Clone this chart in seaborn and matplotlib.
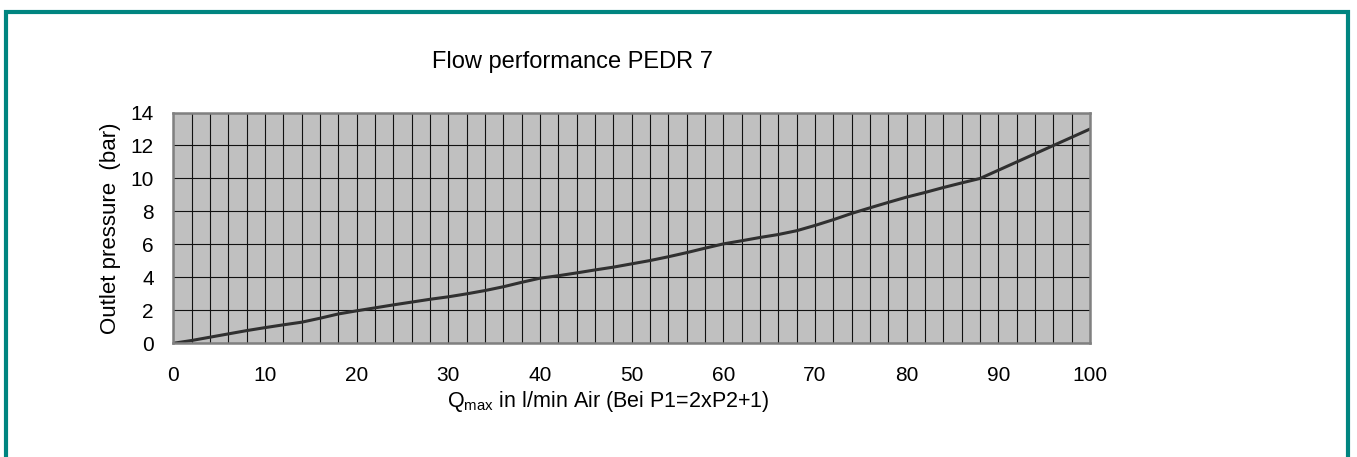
import numpy as np
import pandas as pd
import matplotlib
matplotlib.use("Agg")
import matplotlib.pyplot as plt
import seaborn as sns
from matplotlib.patches import Rectangle

# === DATA ===
flow = [0, 2, 4, 6, 8, 10, 12, 14, 16, 18, 20, 22, 24, 26, 28, 30, 32, 34, 36, 38,
        40, 42, 44, 46, 48, 50, 52, 54, 56, 58, 60, 62, 64, 66, 68, 70, 72, 74, 76, 78,
        80, 82, 84, 86, 88, 90, 92, 94, 96, 98, 100]
pressure = [0.0, 0.17, 0.37, 0.57, 0.77, 0.95, 1.12, 1.28, 1.52, 1.78, 1.97, 2.15, 2.33, 2.5,
            2.67, 2.82, 3.0, 3.2, 3.43, 3.7, 3.95, 4.1, 4.27, 4.45, 4.62, 4.82, 5.02, 5.25,
            5.5, 5.77, 6.03, 6.22, 6.42, 6.6, 6.83, 7.15, 7.5, 7.88, 8.22, 8.55, 8.87, 9.15,
            9.45, 9.73, 10.0, 10.5, 11.0, 11.5, 12.0, 12.5, 13.0]
x_ticks = list(range(0, 101, 10))
y_ticks = list(range(0, 15, 2))
x_grid = list(range(0, 101, 2))

title = "Flow performance PEDR 7"
x_label = r"Q$_{\mathrm{max}}$ in l/min Air (Bei P1=2xP2+1)"
y_label = "Outlet pressure  (bar)"

# === SETTINGS ===
sns.set_style("white")
plt.rcParams["font.family"] = ["Liberation Sans", "DejaVu Sans"]
plt.rcParams["mathtext.fontset"] = "custom"
plt.rcParams["mathtext.rm"] = "Liberation Sans"
plt.rcParams["text.color"] = "black"
plt.rcParams["axes.labelcolor"] = "black"
plt.rcParams["xtick.color"] = "black"
plt.rcParams["ytick.color"] = "black"

df = pd.DataFrame({"flow": flow, "pressure": pressure})

fig = plt.figure(figsize=(13.57, 4.57), dpi=100)
ax = fig.add_axes([0.1277, 0.2488, 0.6756, 0.505])

ax.set_facecolor("#c0c0c0")
ax.set_xlim(0, 100)
ax.set_ylim(0, 14)

# grid lines
for gx in x_grid:
    ax.axvline(gx, color="#111111", lw=0.8, zorder=1)
for gy in y_ticks:
    ax.axhline(gy, color="#111111", lw=0.8, zorder=1)

sns.lineplot(data=df, x="flow", y="pressure", ax=ax, color="#303030", lw=2.2, zorder=3)

ax.set_xticks(x_ticks)
ax.set_yticks(y_ticks)
ax.tick_params(axis="both", labelsize=15, length=6, width=1, color="black",
               direction="out", pad=8)
ax.tick_params(axis="x", pad=10)
for sp in ax.spines.values():
    sp.set_color("#808080")
    sp.set_linewidth(1.8)
    sp.set_zorder(4)

ax.set_xlabel(x_label, fontsize=15.5)
ax.xaxis.set_label_coords(0.475, -0.20)
ax.set_ylabel(y_label, fontsize=16)
ax.yaxis.set_label_coords(-0.057, 0.5)

fig.text(572 / 1357, 1 - 62 / 457, title, fontsize=17, ha="center", va="center")

# teal frame around the chart
fig.patches.append(Rectangle((5.5 / 1357, -0.1), (1347.5 - 5.5) / 1357, 1.1 - 11.5 / 457,
                             transform=fig.transFigure, fill=False,
                             edgecolor="#008580", lw=3.0))

plt.savefig("out.png", dpi=100)
plt.close()
